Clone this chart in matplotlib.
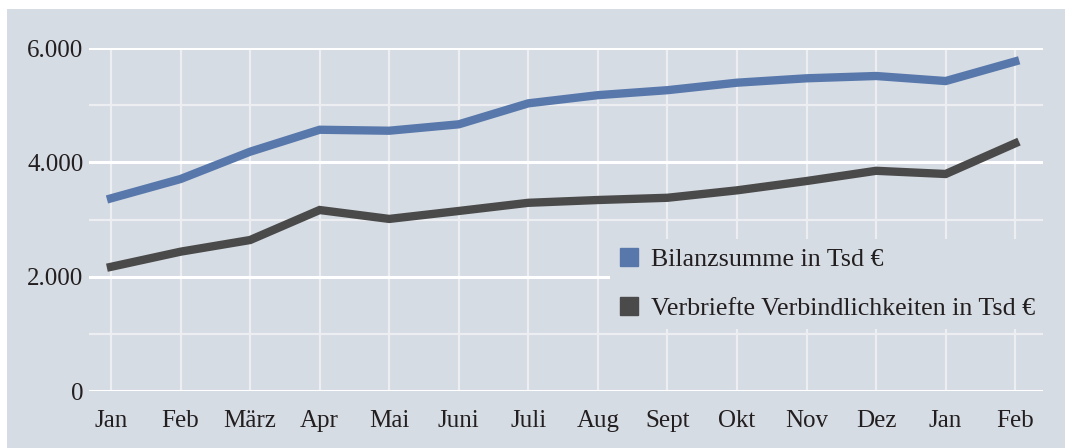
import matplotlib
matplotlib.use("Agg")
import matplotlib.pyplot as plt
from matplotlib.lines import Line2D
from matplotlib.patches import Rectangle
from matplotlib.ticker import FuncFormatter

months = ["Jan", "Feb", "März", "Apr", "Mai", "Juni", "Juli", "Aug",
          "Sept", "Okt", "Nov", "Dez", "Jan", "Feb"]
bilanzsumme = [3370, 3708, 4186, 4570, 4553, 4665, 5032, 5175,
               5262, 5393, 5470, 5510, 5422, 5765]
verbindlichkeiten = [2172, 2437, 2641, 3166, 3010, 3149, 3292, 3341,
                     3380, 3510, 3673, 3852, 3796, 4333]
series_names = ["Bilanzsumme in Tsd €", "Verbriefte Verbindlichkeiten in Tsd €"]
y_ticks = [0, 2000, 4000, 6000]

BG = "#d6dce4"
BLUE = "#5878ac"
DARK = "#4a4a4a"
TEXT = "#231f20"
FONT = ["Liberation Serif", "DejaVu Serif"]
FS = 18
LFS = 18.7
plt.rcParams["font.family"] = FONT

W, H = 1065, 448
fig = plt.figure(figsize=(W / 100, H / 100), dpi=100)
fig.patch.set_facecolor("white")
fig.patches.append(Rectangle((7 / W, 0), 1 - 7 / W, (H - 9) / H,
                             transform=fig.transFigure, facecolor=BG,
                             edgecolor="none", zorder=-10))

ax = fig.add_axes([89 / W, 57 / H, (1043 - 89) / W, (391 - 48) / H])
ax.set_facecolor("none")
x = list(range(len(months)))

ax.set_xlim(-0.316, 13.40)
ax.set_ylim(0, 6000)

# grid
for v in [1000, 3000, 5000]:
    ax.axhline(v, color="#eceef1", lw=1.6, zorder=1)
for xi in x:
    ax.plot([xi, xi], [0, 6000], color="#eceef1", lw=1.6, zorder=1,
            solid_capstyle="butt")
for v in y_ticks:
    ax.axhline(v, color="white", lw=2.2, zorder=2)

ax.plot(x, bilanzsumme, color=BLUE, lw=6, zorder=4, solid_joinstyle="miter")
ax.plot(x, verbindlichkeiten, color=DARK, lw=6, zorder=4, solid_joinstyle="miter")

for s in ax.spines.values():
    s.set_visible(False)
ax.set_xticks(x)
ax.set_xticklabels(months)
ax.set_yticks(y_ticks)
ax.yaxis.set_major_formatter(FuncFormatter(lambda v, p: f"{int(v):,}".replace(",", ".")))
ax.tick_params(axis="both", length=0, labelsize=FS, colors=TEXT)
ax.tick_params(axis="x", pad=14)
ax.tick_params(axis="y", pad=4)

handles = [Line2D([], [], marker="s", markersize=12.5, linestyle="none", color=BLUE),
           Line2D([], [], marker="s", markersize=12.5, linestyle="none", color=DARK)]
pad_px = 9
leg = fig.legend(handles, series_names, loc="upper left",
                 bbox_to_anchor=((619 - pad_px) / W, (H - 248 + pad_px) / H),
                 bbox_transform=fig.transFigure,
                 frameon=True, fancybox=False, facecolor=BG, edgecolor="none",
                 framealpha=1, fontsize=LFS,
                 borderpad=pad_px / (LFS * 100 / 72), borderaxespad=0,
                 handlelength=0.78, handletextpad=0.46, labelspacing=0.98,
                 labelcolor=TEXT)

fig.savefig("out.png", dpi=100, facecolor=fig.get_facecolor())
